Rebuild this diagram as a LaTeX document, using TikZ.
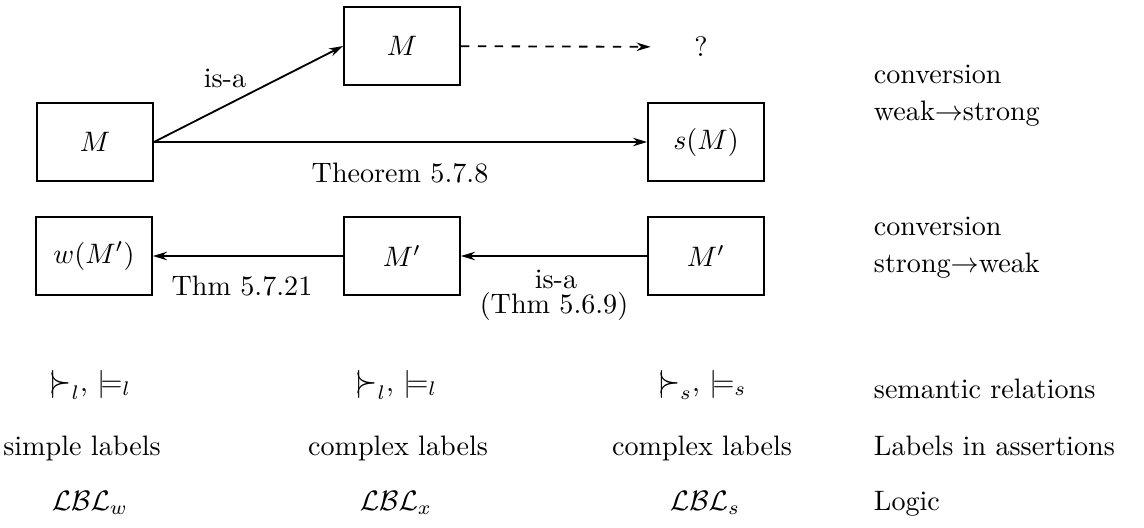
\documentclass[tikz,border=0pt]{standalone}
\usepackage{amssymb}
\usepackage{amsmath}
\usepackage{tikz}
\usetikzlibrary{arrows.meta}

\newcommand{\lforces}{\mathrel{|\mkern-4.5mu\raisebox{-0.1ex}{\scalebox{1}[1.3]{$\succ$}}}}

\begin{document}
\begin{tikzpicture}[x=0.0125cm, y=-0.0125cm, line width=0.65pt,
    >={Stealth[length=5pt, width=3pt]},
    box/.style={draw, minimum width=1.45cm, minimum height=0.975cm},
    txt/.style={inner sep=1pt, anchor=base},
    side/.style={anchor=base west, inner sep=0pt}]
  \useasboundingbox (0,0) rectangle (1144,527);

  \node[box] (m) at (95,142) {$M$};
  \node[box] (mtop) at (402,46) {$M$};
  \node[inner sep=1pt] (q) at (701,47) {?};
  \node[box] (sm) at (706,142) {$s(M)$};

  \node[box] (wm) at (94,256) {$w(M')$};
  \node[box] (mmid) at (402,256) {$M'$};
  \node[box] (mright) at (706,256) {$M'$};

  \draw[->] (m.east) -- (mtop.west);
  \draw[->, dash pattern=on 3pt off 3pt, shorten >=0.5cm] (mtop) -- (q);
  \draw[->] (m) -- (sm);
  \draw[->] (mright) -- (mmid);
  \draw[->] (mmid) -- (wm);

  \node[txt] (isa1) at (225,87) {is-a};
  \node[txt] (thm1) at (400,182) {Theorem 5.7.8};
  \node[txt] (thm2) at (242,295) {Thm 5.7.21};
  \node[txt] (isa2) at (556,288) {is-a};
  \node[txt] (thm3) at (554,313) {(Thm 5.6.9)};

  \node[txt] (rel1) at (90,391) {$\lforces_l$, $\models_l$};
  \node[txt] (rel2) at (396,391) {$\lforces_l$, $\models_l$};
  \node[txt] (rel3) at (702,391) {$\lforces_s$, $\models_s$};

  \node[txt] (lab1) at (82,455) {simple labels};
  \node[txt] (lab2) at (398,455) {complex labels};
  \node[txt] (lab3) at (702,455) {complex labels};

  \node[txt] (log1) at (90,510) {$\mathcal{LBL}_w$};
  \node[txt] (log2) at (396,510) {$\mathcal{LBL}_x$};
  \node[txt] (log3) at (705,510) {$\mathcal{LBL}_s$};

  % right column
  \node[side] (conv1) at (873,83) {conversion};
  \node[side] (dir1) at (873,120) {weak$\rightarrow$strong};
  \node[side] (conv2) at (873,235) {conversion};
  \node[side] (dir2) at (873,272) {strong$\rightarrow$weak};
  \node[side] (sem) at (873,398) {semantic relations};
  \node[side] (ass) at (873,455) {Labels in assertions};
  \node[side] (lgc) at (873,510) {Logic};
\end{tikzpicture}
\end{document}
